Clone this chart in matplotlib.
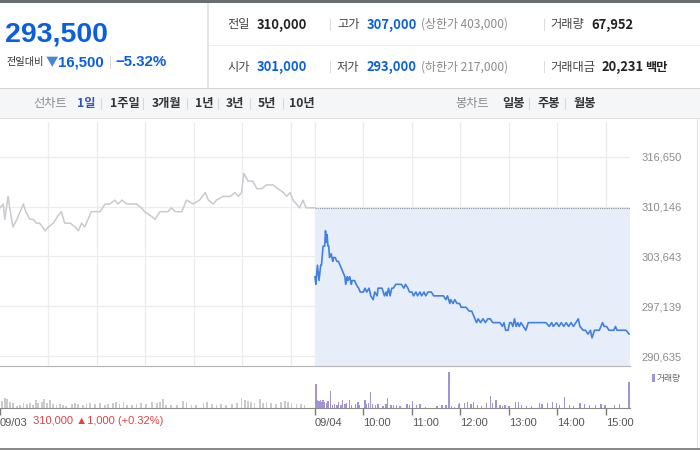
"""
Intraday price chart widget (two sessions) with header summary and volume panel.
"""

import matplotlib
matplotlib.use('Agg')
import matplotlib.pyplot as plt
from matplotlib.patches import Rectangle
from matplotlib.ticker import FuncFormatter

plt.rcParams['font.family'] = ['Noto Sans CJK KR', 'DejaVu Sans']

# ---- data -----------------------------------------------------------------
# minutes from 09:00 on 09/03 (09/04 session starts at 390)
d1_min = [0, 4, 6, 10, 12, 16, 21, 25, 29, 32, 37, 41, 45, 49, 56, 60, 66, 72,
          76, 80, 87, 93, 97, 101, 105, 109, 113, 120, 124, 130, 136, 142, 146,
          151, 157, 163, 169, 175, 179, 186, 192, 198, 202, 208, 212, 217, 225,
          231, 239, 247, 254, 258, 264, 268, 276, 285, 291, 295, 299, 302, 307,
          313, 318, 324, 330, 338, 344, 351, 355, 359, 363, 367, 371, 375, 379,
          390]
d1_price = [310000, 310500, 308500, 311500, 310000, 307500, 308500, 309500,
            310500, 309500, 308500, 308500, 308000, 308000, 307000, 307500,
            308000, 309000, 309500, 308000, 308000, 307500, 307000, 308000,
            307500, 308500, 309500, 309500, 309500, 310500, 310500, 311000,
            310500, 311000, 310500, 310500, 310500, 310000, 309500, 309000,
            308500, 309500, 309500, 309500, 310000, 309500, 309500, 311000,
            310500, 311000, 312000, 311000, 310500, 311000, 311500, 311500,
            312000, 311500, 312000, 314500, 313500, 313500, 312500, 312500,
            313000, 313000, 312500, 312000, 311500, 312000, 311000, 310500,
            310000, 311000, 310000, 310000]

d2_min = [390, 391, 393, 395, 397, 398, 400, 402, 403, 404, 405, 406, 407, 408,
          410, 412, 413, 415, 417, 419, 421, 423, 425, 427, 428, 430, 431, 433,
          435, 436, 439, 441, 444, 446, 450, 452, 454, 457, 459, 462, 464, 467,
          468, 471, 473, 476, 478, 479, 481, 483, 485, 487, 490, 492, 495, 497,
          500, 502, 505, 507, 510, 512, 515, 517, 520, 522, 525, 527, 530, 532,
          534, 537, 539, 542, 544, 547, 549, 552, 554, 557, 558, 561, 563, 566,
          569, 571, 574, 577, 581, 584, 586, 588, 590, 592, 595, 598, 601, 604,
          607, 610, 612, 615, 619, 622, 624, 626, 629, 631, 633, 635, 637, 639,
          641, 643, 645, 648, 651, 654, 658, 662, 665, 668, 672, 676, 680, 683,
          685, 689, 692, 695, 698, 701, 704, 707, 710, 713, 716, 718, 722, 725,
          728, 731, 733, 736, 739, 742, 746, 748, 751, 754, 757, 760, 762, 764,
          767, 771, 775, 779]
d2_price = [301000, 300000, 302500, 300500, 302500, 302500, 305000, 305000,
            307000, 305500, 306500, 305000, 305000, 303500, 304000, 303000,
            303500, 303500, 303000, 303000, 302500, 302000, 301500, 301000,
            300000, 301000, 300500, 301000, 300000, 300500, 300500, 300000,
            299500, 299000, 299000, 299500, 299000, 299500, 298500, 298000,
            299000, 298500, 299500, 299500, 299500, 298500, 299000, 298500,
            299500, 298500, 299500, 299500, 300000, 300000, 300000, 300000,
            299500, 300000, 299500, 299000, 299000, 298500, 299000, 298500,
            299000, 298500, 299000, 298500, 299000, 299000, 299000, 298500,
            298500, 298500, 298500, 298500, 298500, 298000, 298500, 297500,
            298000, 297500, 298000, 297500,
            297500, 297000, 297000, 297000, 296500, 296500, 296000, 295500,
            295000, 295500, 295000, 295500, 295000, 295500, 295500, 295000,
            295000, 295000, 295000, 294500, 295000, 294000, 294000, 295000,
            295000, 294500, 295500, 294500, 295000, 294500, 295000, 294500,
            294000, 295000, 295000, 295000, 295000, 295000, 295000, 295000,
            294500, 295000, 294500, 295000, 294500, 295000, 294500, 295000,
            294500, 295000, 294500, 295000, 295500, 294500, 294000, 294000,
            293500, 294000, 293000, 294000, 294000, 294000, 295000, 294500,
            294500, 294000, 294000, 294000, 294500, 294000, 294000, 294000,
            294000, 293500]

d1v_min = [2, 6, 9, 12, 16, 21, 25, 29, 33, 37, 41, 45, 47, 52, 54, 58, 62, 66,
           70, 74, 78, 82, 89, 93, 97, 103, 107, 111, 118, 124, 130, 134, 140,
           144, 148, 153, 157, 163, 169, 175, 181, 188, 194, 198, 202, 206, 212,
           219, 227, 231, 237, 243, 252, 256, 262, 268, 274, 280, 287, 293, 299,
           303, 307, 311, 315, 322, 326, 330, 336, 342, 348, 353, 357, 361, 367,
           373, 377]
d1_vol = [315, 450, 405, 270, 225, 90, 135, 225, 180, 225, 135, 360, 225, 270,
          405, 225, 360, 180, 135, 180, 135, 90, 180, 225, 180, 135, 180, 225,
          180, 225, 135, 180, 225, 270, 180, 270, 135, 135, 180, 225, 180, 270,
          225, 270, 405, 135, 135, 135, 315, 270, 135, 135, 225, 270, 180, 135,
          180, 135, 180, 225, 450, 360, 315, 270, 225, 405, 225, 270, 225, 180,
          270, 315, 270, 225, 180, 180, 135]

d2v_min = [391, 393, 395, 397, 398, 400, 402, 404, 406, 409, 412, 414, 417, 419,
           422, 424, 427, 429, 433, 435, 440, 443, 445, 452, 454, 456, 459, 461,
           465, 468, 474, 478, 480, 484, 487, 491, 495, 504, 507, 511, 516, 520,
           527, 541, 547, 552, 556, 559, 563, 568, 569, 575, 579, 583, 586, 591,
           596, 602, 607, 610, 614, 619, 622, 625, 630, 638, 642, 646, 652, 658,
           668, 671, 678, 684, 689, 693, 699, 705, 710, 718, 724, 730, 737, 744,
           749, 761, 767, 779]
d2_vol = [1080, 360, 315, 360, 270, 360, 270, 225, 315, 765, 135, 180, 135, 270,
          135, 360, 180, 225, 360, 135, 180, 270, 135, 360, 180, 225, 720, 180,
          135, 180, 90, 180, 450, 135, 135, 135, 90, 180, 135, 315, 135, 180,
          45, 90, 135, 135, 1620, 90, 45, 180, 225, 225, 270, 180, 270, 135,
          90, 225, 540, 225, 360, 135, 90, 135, 90, 270, 270, 135, 90, 90,
          225, 180, 225, 270, 225, 135, 495, 135, 90, 225, 180, 135, 135, 180,
          135, 135, 180, 1170]

prev_close = 310000
price_ticks = [290635, 297139, 303643, 310146, 316650]
grid_min = [60, 120, 180, 240, 300, 360, 390, 450, 510, 570, 630, 690, 750]
time_ticks = [0, 390, 450, 510, 570, 630, 690, 750]
time_labels = ['09/03', '09/04', '10:00', '11:00', '12:00', '13:00', '14:00',
               '15:00']

last_price = '293,500'
change_abs = '16,500'
change_pct = '−5.32%'
info_row1 = [('전일', '310,000', '#222'), ('고가', '307,000', '#0a5fe0'),
             ('거래량', '67,952', '#222')]
info_row2 = [('시가', '301,000', '#0a5fe0'), ('저가', '293,000', '#0a5fe0'),
             ('거래대금', '20,231', '#222')]
limit_up = '(상한가 403,000)'
limit_down = '(하한가 217,000)'
line_tabs = ['1일', '1주일', '3개월', '1년', '3년', '5년', '10년']
candle_tabs = ['일봉', '주봉', '월봉']
prev_day_note = '310,000 ▲1,000 (+0.32%)'

BLUE = '#0a5fe0'
NUM_FONT = 'Liberation Sans'


def main():
    fig = plt.figure(figsize=(7, 4.5), dpi=100)

    # pixel-space canvas for header, tabs and borders
    deco = fig.add_axes([0, 0, 1, 1])
    deco.set_xlim(0, 700)
    deco.set_ylim(450, 0)
    deco.axis('off')

    def rect(x, y, w, h, color, **kw):
        deco.add_patch(Rectangle((x, y), w, h, facecolor=color,
                                 edgecolor='none', **kw))

    def txt(x, y, s, size=9, color='#333', weight='normal', **kw):
        deco.text(x, y, s, fontsize=size, color=color, weight=weight,
                  va='center', ha='left', **kw)

    rect(0, 0, 700, 3, '#6a6d72')
    rect(207, 3, 2, 86, '#e4e4e4')
    rect(209, 44.5, 491, 1, '#ececec')
    rect(0, 88, 700, 30, '#f5f6f8')
    rect(0, 88, 700, 1, '#d2d2d2')
    rect(0, 118, 700, 1, '#dedede')
    rect(0, 448, 700, 2, '#8a8a8a')
    rect(697, 119, 1, 329, '#e2e2e2')

    # left block
    txt(5, 35, last_price, size=20.5, color=BLUE, family=NUM_FONT,
        weight='bold')
    txt(7, 62.5, '전일대비', size=7.3, color='#333')
    txt(46, 62.5, '▼', size=9, color='#4a86d8')
    txt(58, 62.5, change_abs, size=10.8, color=BLUE, family=NUM_FONT,
        weight='bold')
    rect(110, 56, 1, 13, '#d8d8d8')
    txt(115, 62.5, change_pct, size=10.8, color=BLUE, family=NUM_FONT,
        weight='bold')

    # right info block
    for row_y, row, limit in [(24.5, info_row1, limit_up),
                              (67, info_row2, limit_down)]:
        xs_lab = [227, 337, 550]
        xs_val = [257, 367, 591 if len(row[2][0]) == 3 else 602]
        for (lab, val, col), xl, xv in zip(row, xs_lab, xs_val):
            txt(xl, row_y, lab, size=8.8, color='#444')
            txt(xv, row_y, val, size=9.3, color=col, weight='bold')
        txt(421, row_y, limit, size=8.6, color='#8a8a8a')
        rect(330, row_y - 6, 1, 12, '#dcdcdc')
        rect(544, row_y - 6, 1, 12, '#dcdcdc')
    txt(645, 67, '백만', size=8.8, color='#222', weight='bold')

    # tab bar
    txt(33, 104, '선차트', size=8.8, color='#8a8a8a')
    tab_x = [77, 110, 152, 195, 226, 258, 289]
    for i, (lab, x) in enumerate(zip(line_tabs, tab_x)):
        txt(x, 104, lab, size=8.8, color='#2e56b8' if i == 0 else '#333',
            weight='bold')
    for x in [101, 143, 187, 218, 250, 283]:
        rect(x, 98, 1, 12, '#d6d6d6')
    txt(455, 104, '봉차트', size=8.8, color='#8a8a8a')
    for lab, x in zip(candle_tabs, [502, 537, 573]):
        txt(x, 104, lab, size=8.8, color='#333', weight='bold')
    for x in [529, 565]:
        rect(x, 98, 1, 12, '#d6d6d6')

    # ---- price panel ------------------------------------------------------
    W, H = 700, 450
    ax = fig.add_axes([0, 1 - 366 / H, 630 / W, (366 - 122) / H])
    ax.set_facecolor('none')
    ax.set_xlim(0, 780)
    ax.set_ylim(289330, 321220)
    ax.fill_between([390, 780], prev_close, 289330, color='#e7eefa', lw=0,
                    zorder=1)
    ax.hlines(prev_close, 390, 780, colors='#8f8f8f', linestyles=(0, (1, 1)),
              lw=0.8, zorder=2)
    ax.plot(d1_min, d1_price, color='#c9cacf', lw=1.1, zorder=3)
    ax.plot(d2_min, d2_price, color='#3f80e0', lw=1.2, zorder=4)

    ax.set_xticks(grid_min)
    ax.set_yticks(price_ticks)
    ax.yaxis.tick_right()
    ax.yaxis.set_major_formatter(FuncFormatter(lambda v, p: f'{v:,.0f}'))
    ax.tick_params(axis='x', length=0, labelbottom=False)
    ax.tick_params(axis='y', length=0, pad=8, labelsize=8,
                   labelcolor='#8c8c8c')
    for lab in ax.get_yticklabels():
        lab.set_family(NUM_FONT)
    ax.grid(True, color='#ececec', lw=0.9, zorder=0)
    ax.set_axisbelow(True)
    for s in ax.spines.values():
        s.set_visible(False)

    # ---- volume panel -----------------------------------------------------
    axv = fig.add_axes([0, 1 - 408 / H, 630 / W, (408 - 366) / H])
    axv.set_facecolor('none')
    axv.set_xlim(0, 780)
    axv.set_ylim(0, 1890)
    axv.bar(d1v_min, d1_vol, width=2.2, color='#cbcbce', lw=0)
    axv.bar(d2v_min, d2_vol, width=1.8, color='#a393d6', lw=0)
    axv.set_yticks([])
    axv.set_xticks(time_ticks)
    axv.set_xticklabels(time_labels, ha='left', family=NUM_FONT)
    axv.tick_params(axis='x', length=5, width=1, color='#7a7a7a', pad=2,
                    labelsize=8, labelcolor='#555')
    for side in ['left', 'right']:
        axv.spines[side].set_visible(False)
    axv.spines['top'].set_color('#b4b4b4')
    axv.spines['bottom'].set_color('#8a8a8a')

    rect(652, 374, 3, 8, '#a393d6')
    txt(657, 378, '거래량', size=6.3, color='#666')
    txt(33, 421, prev_day_note, size=8, color='#e8403f', family=NUM_FONT)

    fig.savefig('out.png', dpi=100)
    plt.close(fig)


if __name__ == '__main__':
    main()
